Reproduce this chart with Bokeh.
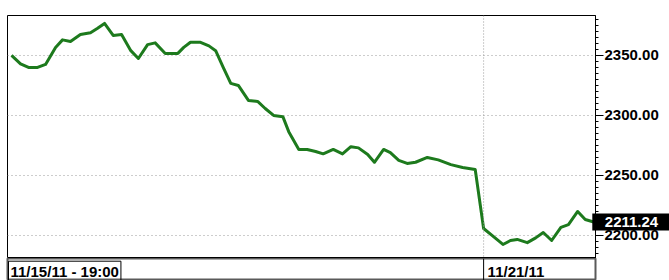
from bokeh.plotting import figure
from bokeh.layouts import column
from bokeh.models import (Range1d, LinearAxis, SingleIntervalTicker, NumeralTickFormatter,
                          Span, Label, ColumnDataSource)
from bokeh.core.properties import value
from bokeh.embed import file_html
from bokeh.resources import INLINE

# Bar index (time axis) and close values
bar_idx = [0, 1.07, 2.02, 3.1, 4.05, 5.24, 6.07, 7.02, 8.2, 9.4, 10.2, 11.07, 12.1, 13.1,
           14.2, 15.1, 16.2, 17.1, 18.3, 19.8, 20.5, 21.3, 22.5, 23.5, 24.3, 25.2, 26.1,
           27.0, 28.2, 29.3, 30.2, 31.2, 32.3, 33.0, 34.2, 35.2, 36.2, 37.1, 38.3, 39.4,
           40.4, 41.3, 42.4, 43.2, 44.3, 45.1, 46.1, 47.1, 48.1, 49.5, 50.8, 52.3, 53.7,
           55.2, 56.2, 57.2, 58.5, 59.4, 60.2, 61.4, 62.4, 63.3, 64.3, 65.4, 66.3, 67.4,
           68.3, 69.3]
close = [2350.0, 2343.0, 2340.0, 2340.0, 2342.5, 2356.7, 2363.0, 2361.7, 2367.5, 2369.0,
         2372.5, 2376.7, 2366.7, 2367.5, 2354.0, 2347.5, 2359.0, 2360.5, 2351.7, 2351.7,
         2356.7, 2361.0, 2361.0, 2358.0, 2354.0, 2340.0, 2326.7, 2325.0, 2312.5, 2311.7,
         2305.8, 2300.0, 2299.0, 2286.5, 2271.7, 2271.7, 2270.0, 2268.0, 2271.7, 2268.0,
         2274.0, 2273.0, 2267.5, 2261.0, 2271.7, 2269.0, 2262.5, 2260.0, 2261.0, 2265.0,
         2263.0, 2259.0, 2256.7, 2255.0, 2205.8, 2200.0, 2192.5, 2195.8, 2196.7, 2194.0,
         2198.0, 2202.5, 2195.8, 2206.7, 2209.0, 2220.0, 2213.3, 2211.24]

last_value = 2211.24
date_labels = ["11/15/11 - 19:00", "11/21/11"]
date_pos = [-0.48, 56.2]

x_start, x_end = -0.48, 69.52
y_low, y_high = 2180.8, 2383.3

FONT = "Liberation Sans"
GREEN = "#1d7a1d"
NBSP = "\u00a0"

xr = Range1d(x_start, x_end)

p = figure(frame_width=588, frame_height=243, x_range=xr, y_range=Range1d(y_low, y_high),
           output_backend="svg", toolbar_location=None, x_axis_location=None,
           y_axis_location=None,
           min_border_left=7, min_border_right=74, min_border_top=15, min_border_bottom=0)
p.outline_line_color = "black"
p.outline_line_width = 1
p.background_fill_color = "white"
p.border_fill_color = "white"

yaxis = LinearAxis(ticker=SingleIntervalTicker(interval=50, num_minor_ticks=10),
                   formatter=NumeralTickFormatter(format="0.00"))
yaxis.axis_line_color = "black"
yaxis.major_tick_line_color = "black"
yaxis.major_tick_out = 8
yaxis.major_tick_in = 0
yaxis.minor_tick_line_color = "black"
yaxis.minor_tick_out = 3
yaxis.minor_tick_in = 0
yaxis.major_label_standoff = 1
yaxis.axis_label_standoff = 0
yaxis.major_label_text_font = FONT
yaxis.major_label_text_font_style = "bold"
yaxis.major_label_text_font_size = "15px"
yaxis.major_label_text_color = "black"
p.add_layout(yaxis, "right")

p.xgrid.visible = False
p.ygrid.ticker = yaxis.ticker
p.ygrid.grid_line_color = "#9a9a9a"
p.ygrid.grid_line_dash = "1 3"
p.ygrid.grid_line_width = 1

p.add_layout(Span(location=date_pos[1], dimension="height", line_color="#9a9a9a",
                  line_dash="1 2", line_width=1))

p.line(bar_idx, close, line_color=GREEN, line_width=3, line_join="round")

# last-value box drawn as a text glyph on the overlay level (not clipped to the frame)
pad = NBSP * 3
lv_src = ColumnDataSource(dict(x=[x_end], y=[last_value], t=[f"{pad}{last_value:.2f}{pad}"]))
p.text(x="x", y="y", text="t", source=lv_src, text_align="center", text_baseline="middle",
       text_color="white", text_font=value(FONT), text_font_style="bold",
       text_font_size="15px", x_offset=36, background_fill_color="black",
       level="overlay")

# bottom date strip
s = figure(frame_width=588, height=22, x_range=xr, y_range=Range1d(0, 1),
           output_backend="svg", toolbar_location=None, x_axis_location=None,
           y_axis_location=None,
           min_border_left=7, min_border_right=74, min_border_top=0, min_border_bottom=0)
s.xgrid.visible = False
s.ygrid.visible = False
s.outline_line_color = "#5a5a5a"
s.outline_line_width = 2
s.add_layout(Label(x=date_pos[0], y=0.4, text=date_labels[0], x_offset=1,
                   text_align="left", text_baseline="middle", text_color="black",
                   text_font=FONT, text_font_style="bold", text_font_size="15px",
                   border_line_color="black", border_line_width=1, padding=2))
s.add_layout(Span(location=date_pos[1], dimension="height", line_color="black", line_width=1))
s.add_layout(Label(x=date_pos[1], y=0.4, text=date_labels[1], x_offset=4,
                   text_align="left", text_baseline="middle", text_color="black",
                   text_font=FONT, text_font_style="bold", text_font_size="15px"))

layout = column(p, s, spacing=0)
open("out.html", "w").write(file_html(layout, INLINE))
